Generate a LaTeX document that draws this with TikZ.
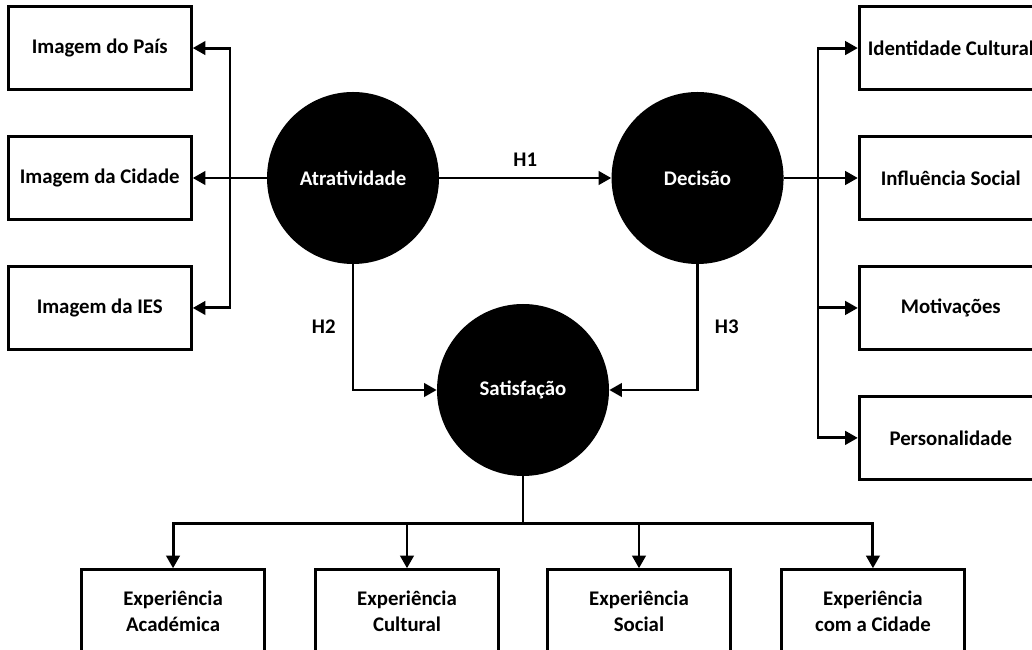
\documentclass[tikz,border=0pt]{standalone}
\usepackage{fontspec}
\setmainfont{Carlito}
\usetikzlibrary{positioning, arrows.meta}

\begin{document}
\begin{tikzpicture}[
				>={Triangle[length=9pt,width=9.5pt]},
				font=\bfseries\fontsize{14.8}{18.5}\selectfont,
				node distance=1.1cm and 1.85cm,
				box/.style={
					rectangle, draw=black, line width=2.1pt,
					minimum width=4.575cm, minimum height=2.075cm, align=center
				},
				latent/.style={
					circle, fill=black, text=white, minimum size=4.3cm, inner sep=0pt
				},
				arrow/.style={->, line width=2.1pt, draw=black}
				]
				
				\useasboundingbox (0,0) rectangle (25.8,16.25);
				
				% Constructs
				\node[latent] (atr) at (8.825,11.8) {Atratividade};
				\node[latent, right=4.3cm of atr] (dec) {Decisão};
				\node[latent] (sat) at (13.075,6.5) {Satisfação};
				
				% Attractiveness indicators
				\node[box, left=of atr] (cidade) {Imagem da Cidade};
				\node[box, above=of cidade] (pais) {Imagem do País};
				\node[box, below=of cidade] (ies) {Imagem da IES};
				
				% Decision indicators
				\node[box, right=of dec] (influ) {Influência Social};
				\node[box, above=of influ] (ident) {Identidade Cultural};
				\node[box, below=of influ] (motiv) {Motivações};
				\node[box, below=of motiv] (perso) {Personalidade};
				
				% Satisfaction indicators
				\node[box, below=2.3cm of sat, xshift=-2.9cm] (expcult) {Experiência\\Cultural};
				\node[box, below=2.3cm of sat, xshift=2.9cm] (expsoc) {Experiência\\Social};
				\node[box, left=1.2cm of expcult] (expacad) {Experiência\\Académica};
				\node[box, right=1.2cm of expsoc] (expcid) {Experiência\\com a Cidade};
				
				% Bus points
				\coordinate (lbus) at (5.75,11.8);
				\coordinate (rbus) at (20.45,11.8);
				\coordinate (bbus) at ([yshift=-1.175cm]sat.south);
				
				% Hypotheses
				\draw[arrow] (atr) -- node[above=4pt] {H1} (dec);
				\draw[arrow] (atr.south) |- node[pos=0.25, left=8pt] {H2} (sat.west);
				\draw[arrow] (dec.south) |- node[pos=0.25, right=8pt] {H3} (sat.east);
				
				% Left fan
				\draw[arrow] (atr.west) -- (cidade.east);
				\draw[arrow] (lbus) |- (pais.east);
				\draw[arrow] (lbus) |- (ies.east);
				
				% Right fan
				\draw[arrow] (dec.east) -- (influ.west);
				\draw[arrow] (rbus) |- (ident.west);
				\draw[arrow] (rbus) |- (motiv.west);
				\draw[arrow] (rbus) |- (perso.west);
				
				% Bottom fan
				\draw[line width=2.1pt] (sat.south) -- (bbus);
				\draw[arrow] (bbus) -| (expacad.north);
				\draw[arrow] (bbus) -| (expcult.north);
				\draw[arrow] (bbus) -| (expsoc.north);
				\draw[arrow] (bbus) -| (expcid.north);
				
			\end{tikzpicture}
\end{document}
